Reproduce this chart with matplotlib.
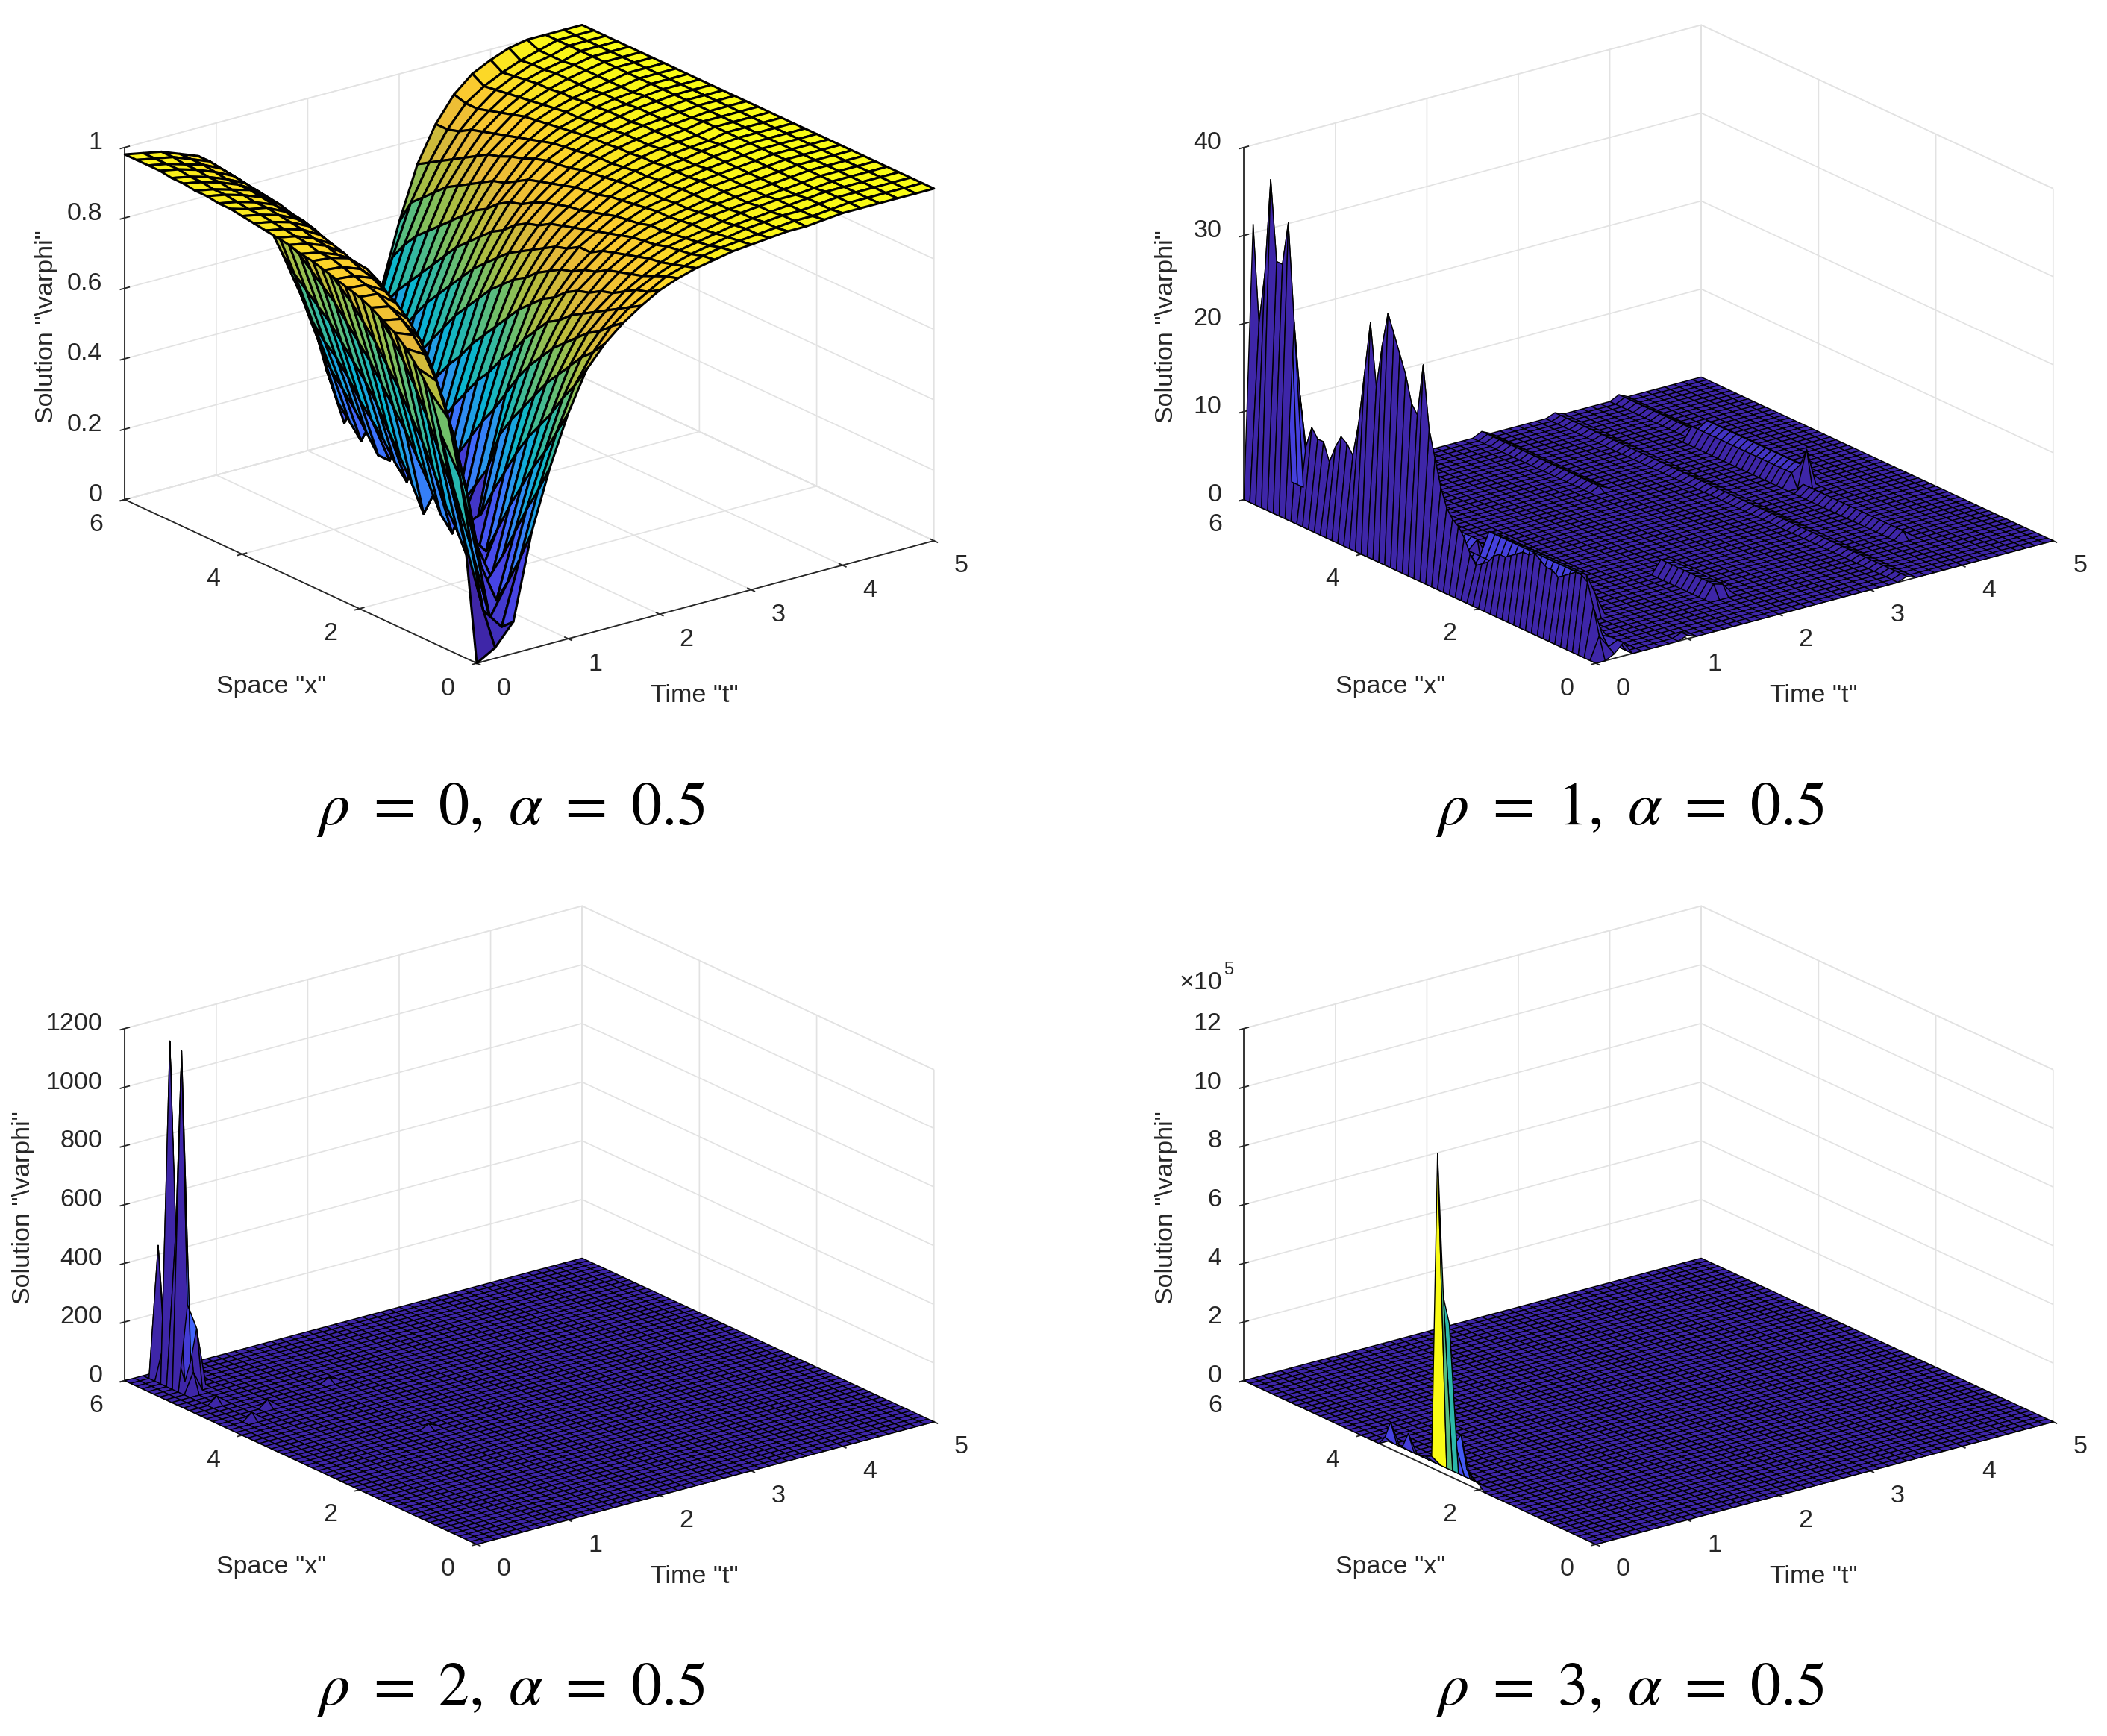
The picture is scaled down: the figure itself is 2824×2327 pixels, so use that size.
import numpy as np
import matplotlib
matplotlib.use('Agg')
import matplotlib.pyplot as plt
from matplotlib.colors import LinearSegmentedColormap, Normalize
from mpl_toolkits.mplot3d import proj3d

W, H = 2824, 2327
plt.rcParams['font.family'] = ['Liberation Sans', 'DejaVu Sans']
TXT = '#262626'
FS = 24.5

parula = LinearSegmentedColormap.from_list('parula', [
    (0.2422, 0.1504, 0.6603), (0.2803, 0.2782, 0.9221), (0.2440, 0.4358, 0.9988),
    (0.1540, 0.5902, 0.9218), (0.0297, 0.7082, 0.8163), (0.1986, 0.7214, 0.6310),
    (0.4420, 0.7481, 0.4120), (0.7000, 0.7400, 0.2400), (0.9000, 0.7200, 0.2200),
    (0.9900, 0.8000, 0.1800), (0.9769, 0.9839, 0.0805)])

captions = [r'$\rho\ =\ 0,\ \alpha\ =\ 0.5$', r'$\rho\ =\ 1,\ \alpha\ =\ 0.5$',
            r'$\rho\ =\ 2,\ \alpha\ =\ 0.5$', r'$\rho\ =\ 3,\ \alpha\ =\ 0.5$']
ztick_sets = [[0, 0.2, 0.4, 0.6, 0.8, 1], [0, 10, 20, 30, 40],
              [0, 200, 400, 600, 800, 1000, 1200], [0, 2e5, 4e5, 6e5, 8e5, 10e5, 12e5]]
ztick_labels = [['0', '0.2', '0.4', '0.6', '0.8', '1'], ['0', '10', '20', '30', '40'],
                ['0', '200', '400', '600', '800', '1000', '1200'],
                ['0', '2', '4', '6', '8', '10', '12']]
xticks_space = [0, 2, 4, 6]
xticks_time = [0, 1, 2, 3, 4, 5]

rho0_x = [0.2 * i for i in range(31)]
rho0_t = [0.2 * i for i in range(26)]
rho0_z = [
    [0, .03, .09, .33, .50, .64, .75, .81, .855, .89, .92, .94, .955, .965, .975, .98, .985, .99, .99, .995, 1, 1, 1, 1, 1, 1],
    [.33, .12, .06, .24, .42, .57, .69, .77, .83, .87, .90, .93, .945, .96, .97, .975, .98, .985, .99, .99, .995, 1, 1, 1, 1, 1],
    [.47, .28, .07, .16, .35, .50, .64, .74, .80, .85, .89, .915, .935, .95, .96, .97, .98, .985, .99, .99, .995, 1, 1, 1, 1, 1],
    [.60, .47, .22, .09, .27, .44, .58, .70, .78, .83, .87, .90, .925, .945, .955, .965, .975, .98, .985, .99, .995, 1, 1, 1, 1, 1],
    [.71, .62, .40, .12, .19, .37, .53, .66, .75, .81, .85, .89, .92, .94, .95, .96, .97, .98, .985, .99, .99, .995, 1, 1, 1, 1],
    [.76, .71, .53, .24, .11, .30, .48, .62, .72, .79, .84, .88, .91, .93, .945, .96, .97, .975, .98, .985, .99, .995, 1, 1, 1, 1],
    [.80, .77, .63, .38, .10, .22, .42, .57, .69, .77, .82, .87, .90, .925, .94, .955, .965, .975, .98, .985, .99, .995, 1, 1, 1, 1],
    [.83, .81, .71, .49, .20, .14, .35, .52, .65, .74, .81, .85, .89, .92, .94, .95, .96, .97, .98, .985, .99, .995, 1, 1, 1, 1],
    [.85, .84, .77, .59, .33, .08, .28, .47, .61, .72, .79, .84, .88, .91, .93, .95, .96, .97, .98, .985, .99, .995, 1, 1, 1, 1],
    [.87, .86, .81, .67, .44, .18, .20, .41, .56, .68, .76, .82, .86, .90, .925, .945, .955, .97, .98, .985, .99, .995, 1, 1, 1, 1],
    [.885, .88, .84, .74, .55, .28, .05, .30, .50, .64, .74, .81, .86, .89, .92, .94, .955, .965, .975, .985, .99, .995, 1, 1, 1, 1],
    [.895, .89, .86, .78, .62, .36, .12, .24, .44, .59, .71, .79, .84, .88, .91, .935, .95, .965, .975, .98, .99, .995, 1, 1, 1, 1],
    [.905, .90, .88, .81, .67, .44, .18, .18, .39, .55, .68, .77, .83, .87, .90, .93, .95, .96, .975, .98, .99, .995, 1, 1, 1, 1],
    [.915, .91, .89, .84, .71, .51, .26, .07, .33, .50, .64, .74, .81, .86, .89, .92, .945, .96, .97, .98, .985, .99, 1, 1, 1, 1],
    [.925, .92, .905, .86, .75, .57, .33, .11, .27, .46, .60, .72, .79, .85, .885, .915, .94, .955, .97, .98, .985, .99, 1, 1, 1, 1],
    [.93, .92, .90, .86, .77, .62, .39, .18, .21, .41, .56, .69, .77, .83, .875, .91, .935, .95, .965, .975, .985, .99, 1, 1, 1, 1],
    [.94, .93, .91, .875, .80, .66, .45, .24, .13, .36, .52, .66, .75, .82, .865, .90, .93, .95, .965, .975, .985, .99, .995, 1, 1, 1],
    [.945, .935, .915, .885, .82, .70, .50, .30, .05, .30, .47, .62, .72, .80, .85, .89, .92, .945, .96, .975, .985, .99, .995, 1, 1, 1],
    [.95, .94, .925, .895, .835, .73, .55, .35, .12, .24, .43, .58, .69, .77, .83, .88, .915, .94, .96, .97, .98, .99, .995, 1, 1, 1],
    [.955, .945, .93, .905, .85, .755, .59, .40, .18, .17, .38, .54, .66, .75, .82, .87, .91, .935, .955, .97, .98, .99, .995, 1, 1, 1],
    [.96, .95, .935, .91, .865, .775, .63, .45, .24, .08, .32, .49, .62, .72, .80, .85, .90, .93, .95, .965, .98, .985, .995, 1, 1, 1],
    [.965, .95, .94, .915, .875, .79, .66, .49, .30, .12, .26, .44, .58, .69, .77, .83, .885, .92, .945, .96, .975, .985, .99, 1, 1, 1],
    [.965, .955, .94, .92, .88, .81, .69, .53, .35, .17, .20, .39, .54, .66, .75, .82, .875, .91, .94, .96, .975, .985, .99, 1, 1, 1],
    [.97, .96, .945, .925, .89, .825, .72, .57, .39, .21, .08, .33, .50, .62, .72, .80, .86, .90, .935, .955, .97, .98, .99, 1, 1, 1],
    [.97, .96, .945, .93, .895, .835, .74, .60, .43, .25, .08, .27, .45, .58, .69, .78, .85, .89, .93, .95, .97, .98, .99, 1, 1, 1],
    [.975, .965, .95, .93, .90, .85, .76, .63, .47, .30, .13, .21, .40, .54, .66, .76, .83, .88, .92, .945, .965, .98, .99, 1, 1, 1],
    [.975, .965, .95, .93, .905, .855, .78, .66, .50, .34, .18, .14, .34, .50, .63, .74, .81, .87, .91, .94, .965, .98, .99, 1, 1, 1],
    [.98, .97, .955, .935, .91, .86, .80, .68, .53, .37, .22, .06, .28, .46, .60, .71, .79, .86, .90, .935, .96, .975, .985, 1, 1, 1],
    [.98, .97, .955, .94, .915, .87, .81, .70, .56, .41, .26, .10, .22, .41, .56, .68, .77, .84, .89, .93, .955, .975, .985, 1, 1, 1],
    [.98, .97, .96, .94, .92, .87, .82, .72, .60, .47, .32, .14, .14, .35, .51, .65, .75, .83, .89, .925, .95, .97, .985, 1, 1, 1],
    [.98, .97, .96, .94, .92, .87, .82, .76, .68, .58, .42, .22, .05, .20, .40, .58, .73, .83, .90, .945, .97, .99, 1, 1, 1, 1],
]

# fine grid of the other three panels
fine_x = [0.1 * i for i in range(61)]
fine_t = [0.1 * i for i in range(51)]

# rho=1: walls along x (listed from x=6 down to x=0) at t=0.1 and t=0.2
rho1_wall_t01 = [31, 20, 26, 37, 28, 28, 33, 22, 14, 8.5,
                 11, 10, 10, 8, 10, 11.5, 11, 10, 14, 20,
                 26, 19, 24, 28, 26, 24, 22, 19, 18, 24,
                 17, 14, 11, 9, 8, 7.5, 6.5, 5, 4, 4.5,
                 5, 6, 6.5, 6.5, 7, 7.5, 8, 8, 8.5, 8,
                 7.5, 7.5, 7, 7.5, 8, 8.5, 8.5, 8, 5.5, 2.5, 0]
rho1_wall_t02 = [3, 3, 3, 3, 3, 3, 3, 3, 3, 3,
                 3, 3, 3, 3, 3, 3, 3, 3, 3, 3,
                 3, 3, 3, 3, 3, 3, 3, 3, 3, 3,
                 3, 3, 3, 3, 3, 3, 3, 3, 2, 3,
                 3, 3, 3, 3, 3, 3, 3, 3, 3, 3,
                 3, 3, 3, 3, 3, 3, 3, 3, 2, 1, .5]
# low ridges of rho=1
rho1_ridge_t = [.3, .4, .5, .6, .7, .4, .5, .6, .3, .4, 4.1, 4.0, 4.2, 4.1, 4.0, 1.8, 1.9, 3.4, 2.6, 4.1, 1.0]
rho1_ridge_x0 = [0, 1.0, 1.1, 1.1, 1.1, 2.8, 2.8, 2.8, 4.0, 4.0, 2.9, 2.9, 2.9, 2.8, 1.0, .8, .8, 0, 4.0, 4.6, 0]
rho1_ridge_x1 = [6, 3.0, 2.6, 2.6, 2.6, 4.0, 4.0, 4.0, 6.0, 6.0, 4.6, 4.6, 4.6, 2.8, 2.7, 1.7, 1.7, 6, 6.0, 6.0, .1]
rho1_ridge_h = [1.5, 3, 5.5, 5, 2.5, 3, 4, 2, 2, 2, 2.2, 1.5, 1, 4.2, .8, 1.5, 1.2, .4, .5, .5, .4]

# rho=2: isolated peaks
rho2_x = [5.9, 5.8, 5.7, 5.6, 5.5, 5.4, 5.3, 5.7, 5.5, 5.4, 4.3, 4.9, 4.5, 4.7, 3.0]
rho2_t = [.3, .3, .3, .3, .3, .3, .3, .4, .4, .4, .3, .3, .6, 1.4, 1.4]
rho2_z = [445, 120, 1160, 520, 1145, 290, 70, 60, 80, 200, 25, 25, 25, 15, 15]

# rho=3: values on the t=0 edge
rho3_x = [3.6, 3.5, 3.4, 3.3, 3.2, 3.1, 3.0, 2.9, 2.8, 2.7, 2.6, 2.5, 2.4, 2.3, 2.2, 2.1, 2.0]
rho3_z = [.3e5, .9e5, .3e5, .25e5, .8e5, .25e5, .25e5, .3e5, .4e5, 10.8e5, 6e5, 5.2e5, 1.2e5, 1.6e5, .5e5, .25e5, .2e5]


def idx(v):
    return int(round(v * 10))


def build_rho1():
    z = np.zeros((len(fine_x), len(fine_t)))
    for t, x0, x1, h in zip(rho1_ridge_t, rho1_ridge_x0, rho1_ridge_x1, rho1_ridge_h):
        z[idx(x0):idx(x1) + 1, idx(t)] = h
    z[:, 1] = rho1_wall_t01[::-1]
    z[:, 2] = rho1_wall_t02[::-1]
    return z


def build_rho2():
    z = np.zeros((len(fine_x), len(fine_t)))
    for x, t, v in zip(rho2_x, rho2_t, rho2_z):
        z[idx(x), idx(t)] = v
    return z


def build_rho3():
    z = np.zeros((len(fine_x), len(fine_t)))
    for x, v in zip(rho3_x, rho3_z):
        z[idx(x), 0] = v
    return z


fig = plt.figure(figsize=(W / 100, H / 100), dpi=100)


def px_text(x, y, s, **kw):
    fig.text(x / W, 1 - y / H, s, **kw)


def to_px(ax, t, x, z):
    M = ax.get_proj()
    p = ax.transData.transform(proj3d.proj_transform(t, x, z, M)[:2])
    return p[0], H - p[1]


def fit(ax, ox, oy):
    # put the floor corners of the box on the wanted pixels
    S = 1300.0
    for i in range(2):
        ax.set_position([0.1, 0.1, S / W, S / H])
        ax.apply_aspect()
        a = to_px(ax, 0, 6, 0)
        b = to_px(ax, 5, 0, 0)
        S = S * (1084.5 / (b[0] - a[0]))
    ax.set_position([0.1, 0.1, S / W, S / H])
    ax.apply_aspect()
    o = to_px(ax, 0, 0, 0)
    ax.set_position([0.1 + (ox - o[0]) / W, 0.1 - (oy - o[1]) / H, S / W, S / H])
    ax.apply_aspect()


def panel(n, xs, ts, z, lw, ox, oy):
    ax = fig.add_subplot(2, 2, n + 1, projection='3d', computed_zorder=False)
    ax.set_proj_type('ortho')
    ax.view_init(elev=20.67, azim=-127.2)
    ax.set_box_aspect((427, 433, 280))
    T, X = np.meshgrid(ts, xs)
    z = np.array(z, dtype=float)
    top = ztick_sets[n][-1]
    cz = z.copy()
    if n in (1, 2):
        # the faces behind the spikes stay dark in these two panels
        cz[:, :-1] = np.minimum(z[:, :-1], z[:, 1:])
    cols = parula(Normalize(0, z.max())(cz))
    ax.plot_surface(T, X, z, facecolors=cols, rstride=1, cstride=1, shade=False,
                    edgecolor='black', linewidth=lw, antialiased=True)
    ax.set_xlim(0, 5, view_margin=0)
    ax.set_ylim(0, 6, view_margin=0)
    ax.set_zlim(0, top, view_margin=0)
    ax.set_xticks(xticks_time)
    ax.set_yticks(xticks_space)
    ax.set_zticks(ztick_sets[n])
    ax.set_xticklabels([])
    ax.set_yticklabels([])
    ax.set_zticklabels([])
    for axis in (ax.xaxis, ax.yaxis, ax.zaxis):
        axis.pane.set_facecolor((1, 1, 1, 0))
        axis.pane.set_edgecolor('#dcdcdc')
        axis.pane.set_linewidth(1.2)
        axis.line.set_color(TXT)
        axis.line.set_linewidth(1.3)
        axis._axinfo['grid'].update(color='#e2e2e2', linewidth=1.2)
        axis._axinfo['tick'].update(inward_factor=0.12, outward_factor=0.12, linewidth={True: 1.3, False: 1.3})
    ax.tick_params(axis='both', colors=TXT)
    ax.patch.set_alpha(0)
    fit(ax, ox, oy)
    # tick labels sit at fixed offsets from their tick, as in the reference
    for v in xticks_space:
        px, py = to_px(ax, 0, v, 0)
        px_text(px - 39, py + 34, str(v), fontsize=FS, color=TXT, ha='center', va='center')
    for v in xticks_time:
        px, py = to_px(ax, v, 0, 0)
        px_text(px + 36, py + 34, str(v), fontsize=FS, color=TXT, ha='center', va='center')
    for v, s in zip(ztick_sets[n], ztick_labels[n]):
        px, py = to_px(ax, 0, 6, v)
        px_text(px - 30, py - 6, s, fontsize=FS, color=TXT, ha='right', va='center')
    return ax


dx = 1500.0
dy = 1181.0
grids = [(rho0_x, rho0_t, rho0_z, 2.2), (fine_x, fine_t, build_rho1(), 1.0),
         (fine_x, fine_t, build_rho2(), 1.0), (fine_x, fine_t, build_rho3(), 1.0)]
for n, (xs, ts, z, lw) in enumerate(grids):
    ox = 639 + dx * (n % 2)
    oy = 889 + dy * (n // 2)
    panel(n, xs, ts, z, lw, ox, oy)
    px_text(ox - 275, oy + 31, 'Space "x"', fontsize=FS, color=TXT, ha='center', va='center')
    px_text(ox + 292, oy + 44, 'Time "t"', fontsize=FS, color=TXT, ha='center', va='center')
    zx = 32 if n == 2 else 63 + dx * (n % 2)
    zy = 438 + dy * (n // 2)
    px_text(zx, zy, 'Solution "\\varphi"', fontsize=FS, color=TXT, rotation=90, ha='center', va='center')
    px_text(684 + dx * (n % 2), 1105 + 1180 * (n // 2), captions[n], fontsize=59, ha='center', va='baseline',
            math_fontfamily='stix', color='black')

px_text(1581, 1317, '×10', fontsize=FS, color=TXT, ha='left', va='center')
px_text(1640, 1300, '5', fontsize=17, color=TXT, ha='left', va='center')

fig.savefig('out.png', dpi=100, facecolor='white')
